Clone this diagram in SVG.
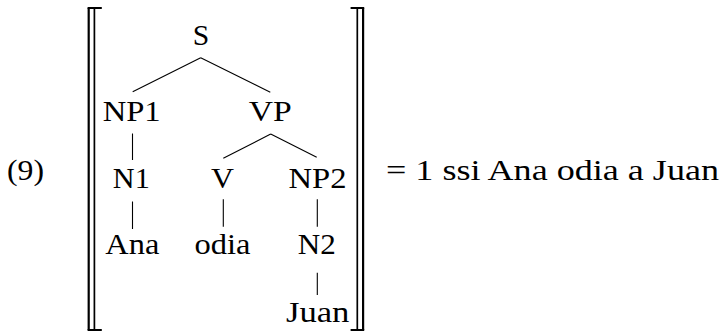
<svg xmlns="http://www.w3.org/2000/svg" width="720" height="331" viewBox="0 0 720 331">
<style>
text{font-family:"Liberation Serif","Times New Roman",serif;font-size:30px;fill:#000}
.n{text-anchor:middle}
.e{stroke:#000;stroke-width:1.1;fill:none}
.bo{stroke:#000;stroke-width:2.2;fill:none}
.bi{stroke:#000;stroke-width:1.7;fill:none}
</style>
<rect width="720" height="331" fill="#fff"/>
<text id="label9" x="7" y="179.5" textLength="37" lengthAdjust="spacingAndGlyphs">(9)</text>
<g id="brackets">
<path class="bo" d="M88.7,8 V330"/>
<path class="bi" d="M94.4,8 V330"/>
<path class="bo" d="M87.6,8 H101.8 M87.6,330 H101.8"/>
<path class="bi" d="M357.3,8 V330"/>
<path class="bo" d="M363.1,8 V330"/>
<path class="bo" d="M350.6,8 H364.2 M350.6,330 H364.2"/>
</g>
<g id="connectors">
<path class="e" d="M200.7,57.7 L132.7,91.7 M200.7,57.7 L270.3,92.3"/>
<path class="e" d="M132.5,133.5 V160"/>
<path class="e" d="M270.7,134 L223.3,158.3 M270.7,134 L316.7,157.3"/>
<path class="e" d="M132.5,201.5 V229"/>
<path class="e" d="M223.3,199.3 V226.7"/>
<path class="e" d="M317.3,199.3 V226.7"/>
<path class="e" d="M317.3,272.7 V295"/>
</g>
<g id="S"><text class="n" x="201" y="45" textLength="16.5" lengthAdjust="spacingAndGlyphs">S</text></g>
<g id="NP1"><text class="n" x="131.7" y="120.5" textLength="58" lengthAdjust="spacingAndGlyphs">NP1</text></g>
<g id="VP"><text class="n" x="270.3" y="120.5" textLength="43" lengthAdjust="spacingAndGlyphs">VP</text></g>
<g id="N1"><text class="n" x="131.3" y="187.5" textLength="37" lengthAdjust="spacingAndGlyphs">N1</text></g>
<g id="V"><text class="n" x="222.5" y="187.5" textLength="23" lengthAdjust="spacingAndGlyphs">V</text></g>
<g id="NP2"><text class="n" x="317.5" y="187.5" textLength="58" lengthAdjust="spacingAndGlyphs">NP2</text></g>
<g id="Ana"><text class="n" x="132.3" y="254" textLength="54" lengthAdjust="spacingAndGlyphs">Ana</text></g>
<g id="odia"><text class="n" x="222.4" y="254" textLength="56" lengthAdjust="spacingAndGlyphs">odia</text></g>
<g id="N2"><text class="n" x="316.7" y="254" textLength="38" lengthAdjust="spacingAndGlyphs">N2</text></g>
<g id="Juan"><text class="n" x="317.7" y="321.7" textLength="63.5" lengthAdjust="spacingAndGlyphs">Juan</text></g>
<text id="equation" x="386" y="179.5" textLength="333" lengthAdjust="spacingAndGlyphs">= 1 ssi Ana odia a Juan</text>
</svg>
